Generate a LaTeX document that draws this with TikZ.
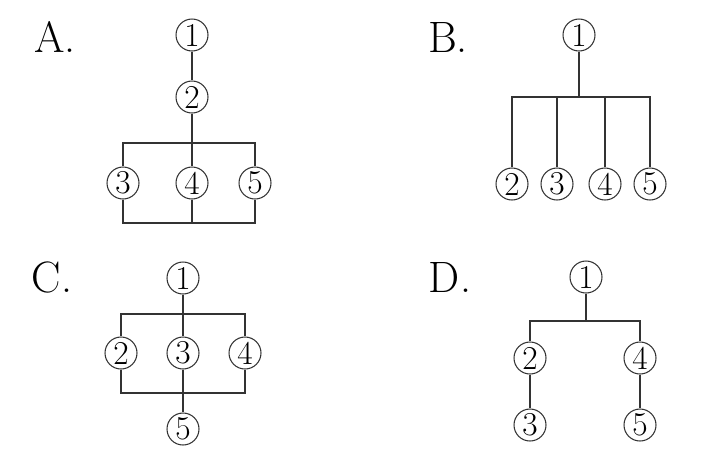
\documentclass[tikz,border=0pt]{standalone}
\usepackage{fontspec}
\tikzset{
  num/.style={draw,circle,minimum size=0.64cm,inner sep=0pt,line width=0.6pt,
    font=\fontsize{19}{19}\selectfont},
  opt/.style={font=\fontsize{25}{25}\selectfont}
}
\begin{document}
\begin{tikzpicture}[x=0.02cm,y=-0.02cm,line width=0.75pt,draw=black!80]
  \useasboundingbox (0,0) rectangle (723,458);
  % option labels
  \node[opt] (la) at (55,37) {A.};
  \node[opt] (lb) at (448,37) {B.};
  \node[opt] (lc) at (52,277) {C.};
  \node[opt] (ld) at (450,277) {D.};

  % A
  \node[num] (a1) at (192,35) {1};
  \node[num] (a2) at (192,97) {2};
  \foreach \i/\x in {3/123,4/192,5/255} {
    \node[num] (a\i) at (\x,183) {\i};
  }
  \coordinate (atop) at (192,143);
  \coordinate (abot) at (192,223);
  \draw (a1) -- (a2);
  \draw (a2) -- (a4);
  \draw (a3) |- (atop) -| (a5);
  \draw (a3) |- (abot) -| (a5);
  \draw (a4) -- (abot);

  % B
  \node[num] (b1) at (579,35) {1};
  \foreach \i/\x in {2/512,3/557,4/605,5/650} {
    \node[num] (b\i) at (\x,184) {\i};
  }
  \coordinate (bbar) at (579,97);
  \draw (b1) -- (bbar);
  \draw (b2) |- (bbar) -| (b5);
  \draw (b3) -- (b3 |- bbar);
  \draw (b4) -- (b4 |- bbar);

  % C
  \node[num] (c1) at (183,278) {1};
  \foreach \i/\x in {2/121,3/183,4/245} {
    \node[num] (c\i) at (\x,353) {\i};
  }
  \node[num] (c5) at (183,429) {5};
  \coordinate (ctop) at (183,314);
  \coordinate (cbot) at (183,393);
  \draw (c1) -- (c3);
  \draw (c3) -- (c5);
  \draw (c2) |- (ctop) -| (c4);
  \draw (c2) |- (cbot) -| (c4);

  % D
  \node[num] (d1) at (586,277) {1};
  \node[num] (d2) at (530,358) {2};
  \node[num] (d4) at (640,358) {4};
  \node[num] (d3) at (530,425) {3};
  \node[num] (d5) at (640,425) {5};
  \coordinate (dbar) at (586,321);
  \draw (d1) -- (dbar);
  \draw (d2) |- (dbar) -| (d4);
  \draw (d2) -- (d3);
  \draw (d4) -- (d5);
\end{tikzpicture}
\end{document}
